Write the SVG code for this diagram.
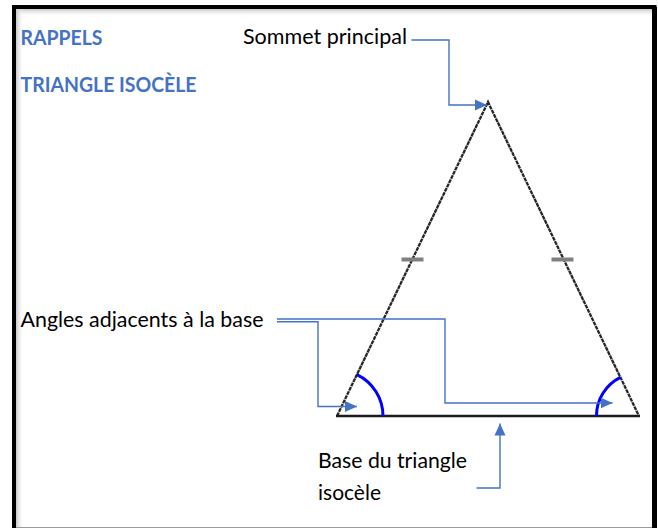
<svg xmlns="http://www.w3.org/2000/svg" width="658" height="528" viewBox="0 0 658 528">
<defs>
<style>
.head{font-family:Lato,"Open Sans","Liberation Sans",sans-serif;font-weight:bold;font-size:21px;fill:#4472C4}
.lbl{font-family:Lato,"Open Sans","Liberation Sans",sans-serif;font-size:21px;fill:#000}
.conn{fill:none;stroke:#4472C4;stroke-width:1.4}
.side{fill:none;stroke:#262626;stroke-width:2.3;stroke-dasharray:4 0.7}
.tick{stroke:#808080;stroke-width:4}
.arc{fill:none;stroke:#0000FF;stroke-width:3}
</style>
<marker id="ah" markerUnits="userSpaceOnUse" markerWidth="13" markerHeight="12" refX="12" refY="6" orient="auto">
<path d="M0,0.5 L12,6 L0,11.5 z" fill="#4472C4"/>
</marker>
<linearGradient id="gTop" x1="0" y1="0" x2="0" y2="1">
<stop offset="0" stop-color="#c8c8c8"/><stop offset="1" stop-color="#ffffff" stop-opacity="0"/>
</linearGradient>
<linearGradient id="gLeft" x1="0" y1="0" x2="1" y2="0">
<stop offset="0" stop-color="#c8c8c8"/><stop offset="1" stop-color="#ffffff" stop-opacity="0"/>
</linearGradient>
</defs>
<rect width="658" height="528" fill="#ffffff"/>
<g id="frame">
<rect x="16" y="9" width="636" height="8" fill="url(#gTop)"/>
<rect x="16" y="9" width="8" height="518" fill="url(#gLeft)"/>
<path d="M16,527.5 H652" stroke="#9a9a9a" stroke-width="1.2"/>
<path d="M14,528 V7 H654.5 V528" fill="none" stroke="#000" stroke-width="4"/>
<path d="M654.5,7 V528" stroke="#000" stroke-width="5"/>
</g>
<g id="titles">
<text class="head" x="20.5" y="44.5" textLength="82" lengthAdjust="spacingAndGlyphs">RAPPELS</text>
<text class="head" x="20.5" y="91.5" textLength="176" lengthAdjust="spacingAndGlyphs">TRIANGLE ISOCÈLE</text>
</g>
<g id="triangle">
<path class="side" d="M337,416 L488,102 L639,416"/>
<path d="M336,416 H640" stroke="#1a1a1a" stroke-width="2.5"/>
<path class="tick" d="M401.5,259.5 H423.5 M551.5,259.5 H573.5"/>
<path class="arc" d="M356.9,374.6 A46,46 0 0 1 383,416"/>
<path class="arc" d="M620.4,377.3 A43,43 0 0 0 596.5,416"/>
</g>
<g id="label-sommet">
<text class="lbl" x="243" y="44" textLength="164" lengthAdjust="spacingAndGlyphs">Sommet principal</text>
</g>
<g id="label-angles">
<text class="lbl" x="20.5" y="327" textLength="243" lengthAdjust="spacingAndGlyphs">Angles adjacents à la base</text>
</g>
<g id="label-base">
<text class="lbl" x="318" y="468" textLength="149" lengthAdjust="spacingAndGlyphs">Base du triangle</text>
<text class="lbl" x="318" y="499.5" textLength="63" lengthAdjust="spacingAndGlyphs">isocèle</text>
</g>
<g id="connectors">
<path class="conn" d="M411.5,40 H449 V105 H487" marker-end="url(#ah)"/>
<path class="conn" d="M277,321.7 H318 V406.5 H357" marker-end="url(#ah)"/>
<path class="conn" d="M277,319 H445 V403 H612.5" marker-end="url(#ah)"/>
<path class="conn" d="M476.5,488 H500 V423.5" marker-end="url(#ah)"/>
</g>
</svg>
